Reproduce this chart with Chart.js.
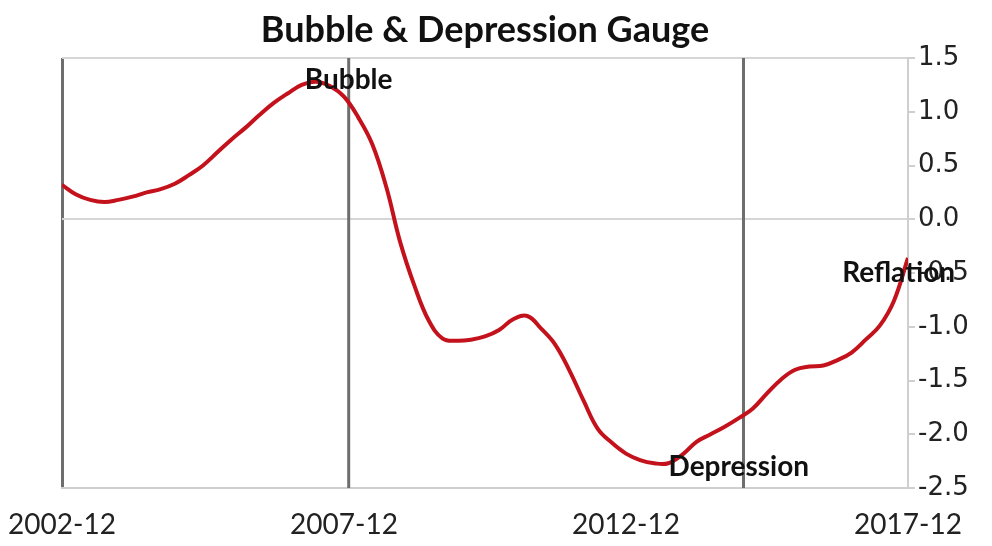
<!DOCTYPE html>
<html>
<head>
<meta charset="utf-8">
<script src="https://cdn.jsdelivr.net/npm/chart.js@4/dist/chart.umd.min.js"></script>
<style>
  html, body { margin: 0; padding: 0; background: #fff; }
  #wrap { width: 992px; height: 546px; }
</style>
</head>
<body>
<div id="wrap"><canvas id="gauge"></canvas></div>
<script>
// quarterly readings of the gauge
const dates = [
    '2002-12', '2003-03', '2003-06', '2003-09', '2003-12', '2004-03', '2004-06', '2004-09',
    '2004-12', '2005-03', '2005-06', '2005-09', '2005-12', '2006-03', '2006-06', '2006-09',
    '2006-12', '2007-03', '2007-06', '2007-09', '2007-12', '2008-03', '2008-06', '2008-09',
    '2008-12', '2009-03', '2009-06', '2009-09', '2009-12', '2010-03', '2010-06', '2010-09',
    '2010-12', '2011-03', '2011-06', '2011-09', '2011-12', '2012-03', '2012-06', '2012-09',
    '2012-12', '2013-03', '2013-06', '2013-09', '2013-12', '2014-03', '2014-06', '2014-09',
    '2014-12', '2015-03', '2015-06', '2015-09', '2015-12', '2016-03', '2016-06', '2016-09',
    '2016-12', '2017-03', '2017-06', '2017-09', '2017-12'
];
const gauge = [
    0.32, 0.23, 0.18, 0.16, 0.18, 0.21, 0.25, 0.28,
    0.33, 0.41, 0.50, 0.62, 0.74, 0.85, 0.97, 1.08,
    1.17, 1.25, 1.28, 1.24, 1.14, 0.95, 0.70, 0.30,
    -0.22, -0.62, -0.94, -1.11, -1.13, -1.12, -1.09, -1.03,
    -0.93, -0.90, -1.02, -1.17, -1.41, -1.69, -1.95, -2.08,
    -2.18, -2.24, -2.27, -2.27, -2.19, -2.07, -2.00, -1.93,
    -1.85, -1.76, -1.62, -1.49, -1.40, -1.37, -1.36, -1.31,
    -1.24, -1.12, -0.99, -0.76, -0.36
];

// vertical markers
const markerDates = ['2008-01', '2015-01'];

// text labels on the chart
const noteLabels = ['Bubble', 'Depression', 'Reflation'];
const noteDates = ['2008-01', '2014-12', '2017-10'];
const noteValues = [1.3, -2.3, -0.5];

const title = 'Bubble & Depression Gauge';
const yTicks = [1.5, 1.0, 0.5, 0.0, -0.5, -1.0, -1.5, -2.0, -2.5];
const xTickLabels = ['2002-12', '2007-12', '2012-12', '2017-12'];

const Y_MIN = -2.5;
const Y_MAX = 1.5;

// months elapsed since 2002-12
function toMonths(s) {
    const parts = s.split('-');
    return (parseInt(parts[0], 10) - 2002) * 12 + (parseInt(parts[1], 10) - 12);
}

const xMax = toMonths(xTickLabels[xTickLabels.length - 1]);

const datasets = [{
    data: dates.map((d, i) => ({ x: toMonths(d), y: gauge[i] })),
    borderColor: '#c4121c',
    borderWidth: 4,
    pointRadius: 0,
    tension: 0.4,
    order: 0
}];

markerDates.forEach(d => {
    datasets.push({
        data: [{ x: toMonths(d), y: Y_MIN }, { x: toMonths(d), y: Y_MAX }],
        borderColor: '#6e6e6e',
        borderWidth: 3,
        pointRadius: 0,
        order: 1
    });
});

// title centred over the plot area, plus the in-chart notes
const notesPlugin = {
    id: 'notes',
    afterDatasetsDraw(chart) {
        const ctx = chart.ctx;
        const xs = chart.scales.x;
        const ys = chart.scales.y;
        const area = chart.chartArea;
        ctx.save();
        ctx.fillStyle = '#111';
        ctx.textAlign = 'center';
        ctx.textBaseline = 'middle';

        ctx.font = "bold 36px Lato, 'DejaVu Sans', sans-serif";
        ctx.fillText(title, (area.left + area.right) / 2, 30);

        ctx.font = "bold 28px Lato, 'DejaVu Sans', sans-serif";
        noteLabels.forEach((t, i) => {
            ctx.fillText(t, xs.getPixelForValue(toMonths(noteDates[i])), ys.getPixelForValue(noteValues[i]));
        });
        ctx.restore();
    }
};

new Chart(document.getElementById('gauge'), {
    type: 'line',
    data: { datasets: datasets },
    plugins: [notesPlugin],
    options: {
        responsive: true,
        maintainAspectRatio: false,
        animation: false,
        layout: { padding: { top: 58, left: 62, right: 0, bottom: 0 } },
        plugins: {
            legend: { display: false },
            tooltip: { enabled: false },
            title: { display: false }
        },
        scales: {
            x: {
                type: 'linear',
                min: 0,
                max: xMax,
                afterBuildTicks: scale => {
                    scale.ticks = xTickLabels.map(l => ({ value: toMonths(l) }));
                },
                afterFit: scale => {
                    scale.height = 58;
                    scale.paddingLeft = 0;
                    scale.paddingRight = 0;
                },
                ticks: {
                    callback: (v, i) => xTickLabels[i],
                    color: '#222',
                    padding: 20,
                    maxRotation: 0,
                    font: { family: "Lato, 'DejaVu Sans', sans-serif", size: 28 }
                },
                grid: {
                    drawTicks: false,
                    lineWidth: ctx => (ctx.tick && ctx.tick.value === 0 ? 3 : 1),
                    color: ctx => (ctx.tick && ctx.tick.value === 0 ? '#6e6e6e' : 'transparent')
                },
                border: { display: true, color: '#cfcfcf', width: 2 }
            },
            y: {
                position: 'right',
                min: Y_MIN,
                max: Y_MAX,
                afterBuildTicks: scale => {
                    scale.ticks = yTicks.map(v => ({ value: v }));
                },
                afterFit: scale => { scale.width = 84; },
                ticks: {
                    callback: v => v.toFixed(1),
                    color: '#222',
                    padding: 3,
                    font: { family: "'DejaVu Sans', sans-serif", size: 26 }
                },
                grid: {
                    tickLength: 7,
                    tickColor: '#cfcfcf',
                    lineWidth: 2,
                    color: ctx => (ctx.tick && [0, Y_MAX, Y_MIN].includes(ctx.tick.value) ? '#d6d6d6' : 'transparent')
                },
                border: { display: true, color: '#cfcfcf', width: 2 }
            }
        }
    }
});
</script>
</body>
</html>
